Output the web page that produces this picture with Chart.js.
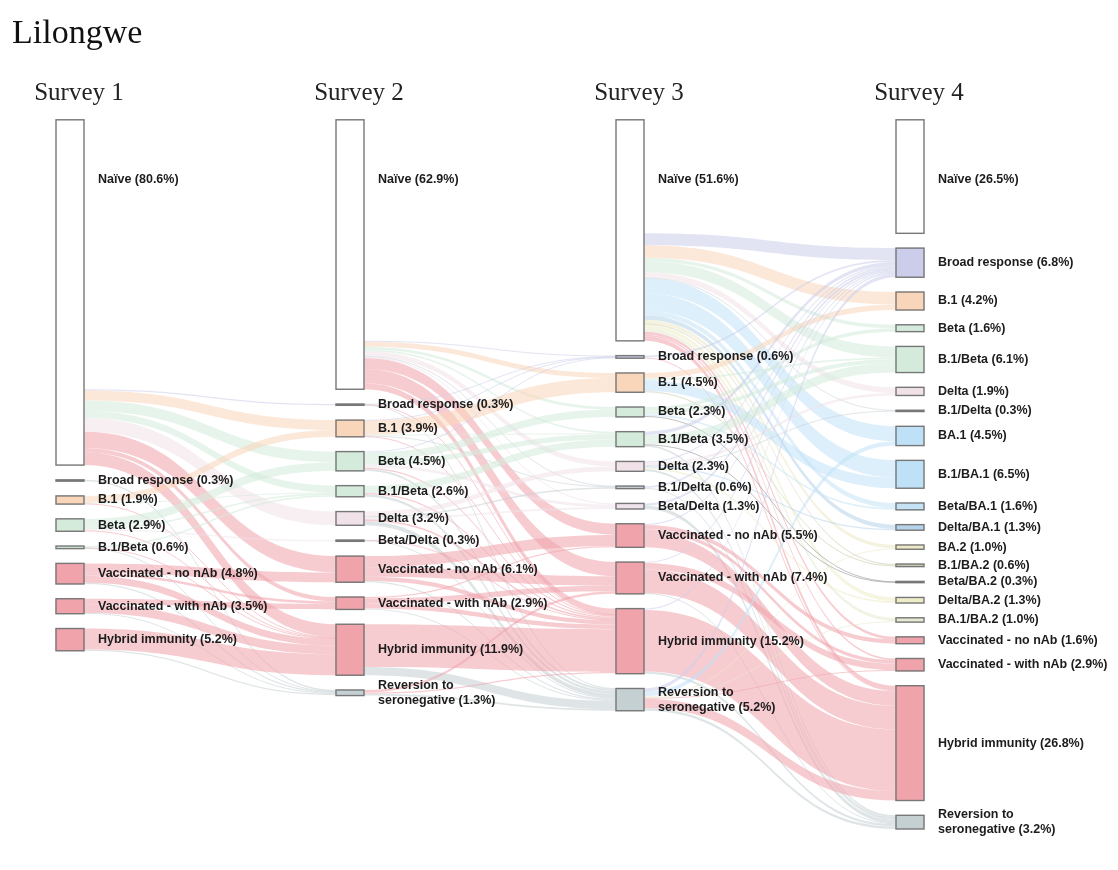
<!DOCTYPE html>
<html>
<head>
<meta charset="utf-8">
<script src="https://cdn.jsdelivr.net/npm/chart.js@4.4.1/dist/chart.umd.min.js"></script>
<style>
  body { margin: 0; background: #fff; }
  #caixa { width: 1118px; height: 870px; }
</style>
</head>
<body>
<div id="caixa"><canvas id="grafico"></canvas></div>
<script>
const surveys = ['Survey 1', 'Survey 2', 'Survey 3', 'Survey 4']

const names = {
  N: 'Naïve', Br: 'Broad response', B1: 'B.1', Be: 'Beta', B1Be: 'B.1/Beta', De: 'Delta',
  B1De: 'B.1/Delta', BeDe: 'Beta/Delta', BA1: 'BA.1', B1BA1: 'B.1/BA.1', BeBA1: 'Beta/BA.1',
  DeBA1: 'Delta/BA.1', BA2: 'BA.2', B1BA2: 'B.1/BA.2', BeBA2: 'Beta/BA.2', DeBA2: 'Delta/BA.2',
  BA1BA2: 'BA.1/BA.2', Vn: 'Vaccinated - no nAb', Vw: 'Vaccinated - with nAb',
  Hy: 'Hybrid immunity', Rv: 'Reversion to\nseronegative'
}

// nodes of each survey, top to bottom, with their share (%)
const nodes1 = ['N', 'Br', 'B1', 'Be', 'B1Be', 'Vn', 'Vw', 'Hy']
const values1 = [80.6, 0.3, 1.9, 2.9, 0.6, 4.8, 3.5, 5.2]

const nodes2 = ['N', 'Br', 'B1', 'Be', 'B1Be', 'De', 'BeDe', 'Vn', 'Vw', 'Hy', 'Rv']
const values2 = [62.9, 0.3, 3.9, 4.5, 2.6, 3.2, 0.3, 6.1, 2.9, 11.9, 1.3]

const nodes3 = ['N', 'Br', 'B1', 'Be', 'B1Be', 'De', 'B1De', 'BeDe', 'Vn', 'Vw', 'Hy', 'Rv']
const values3 = [51.6, 0.6, 4.5, 2.3, 3.5, 2.3, 0.6, 1.3, 5.5, 7.4, 15.2, 5.2]

const nodes4 = ['N', 'Br', 'B1', 'Be', 'B1Be', 'De', 'B1De', 'BA1', 'B1BA1', 'BeBA1', 'DeBA1',
  'BA2', 'B1BA2', 'BeBA2', 'DeBA2', 'BA1BA2', 'Vn', 'Vw', 'Hy', 'Rv']
const values4 = [26.5, 6.8, 4.2, 1.6, 6.1, 1.9, 0.3, 4.5, 6.5, 1.6, 1.3,
  1.0, 0.6, 0.3, 1.3, 1.0, 1.6, 2.9, 26.8, 3.2]

// flows between surveys [from, to, %]
const flows12 = [
  ['N', 'N', 62.9], ['N', 'Br', 0.3], ['N', 'B1', 2.3], ['N', 'Be', 2.5], ['N', 'B1Be', 1.6],
  ['N', 'De', 3.2], ['N', 'Vn', 3.8], ['N', 'Vw', 1.0], ['N', 'Hy', 3.0],
  ['Br', 'Rv', 0.3],
  ['B1', 'B1', 1.6], ['B1', 'B1Be', 0.2], ['B1', 'Hy', 0.1],
  ['Be', 'Be', 2.0], ['Be', 'B1Be', 0.4], ['Be', 'BeDe', 0.3], ['Be', 'Hy', 0.2],
  ['B1Be', 'B1Be', 0.4], ['B1Be', 'Hy', 0.1], ['B1Be', 'Rv', 0.1],
  ['Vn', 'Vn', 2.3], ['Vn', 'Vw', 0.6], ['Vn', 'Hy', 1.6], ['Vn', 'Rv', 0.3],
  ['Vw', 'Vw', 1.3], ['Vw', 'Hy', 2.0], ['Vw', 'Rv', 0.2],
  ['Hy', 'Hy', 4.9], ['Hy', 'Rv', 0.3]
]

const flows23 = [
  ['N', 'N', 51.6], ['N', 'Br', 0.2], ['N', 'B1', 1.2], ['N', 'Be', 0.6], ['N', 'B1Be', 0.4],
  ['N', 'De', 1.2], ['N', 'B1De', 0.1], ['N', 'BeDe', 0.3], ['N', 'Vn', 2.6], ['N', 'Vw', 3.3],
  ['N', 'Hy', 1.4],
  ['Br', 'Br', 0.1], ['Br', 'Hy', 0.1], ['Br', 'Rv', 0.1],
  ['B1', 'Br', 0.1], ['B1', 'B1', 3.3], ['B1', 'B1Be', 0.2], ['B1', 'B1De', 0.2], ['B1', 'Hy', 0.1],
  ['Be', 'Br', 0.2], ['Be', 'Be', 1.7], ['Be', 'B1Be', 1.2], ['Be', 'BeDe', 0.6], ['Be', 'Hy', 0.3],
  ['Be', 'Rv', 0.5],
  ['B1Be', 'B1Be', 1.7], ['B1Be', 'Hy', 0.3], ['B1Be', 'Rv', 0.6],
  ['De', 'De', 1.1], ['De', 'B1De', 0.3], ['De', 'BeDe', 0.4], ['De', 'Hy', 0.4], ['De', 'Rv', 1.0],
  ['BeDe', 'Hy', 0.1], ['BeDe', 'Rv', 0.2],
  ['Vn', 'Vn', 2.6], ['Vn', 'Vw', 2.2], ['Vn', 'Hy', 1.0], ['Vn', 'Rv', 0.3],
  ['Vw', 'Vn', 0.3], ['Vw', 'Vw', 1.3], ['Vw', 'Hy', 1.1], ['Vw', 'Rv', 0.2],
  ['Hy', 'Hy', 10.0], ['Hy', 'Rv', 1.9],
  ['Rv', 'Vw', 0.6], ['Rv', 'Hy', 0.3], ['Rv', 'Rv', 0.4]
]

const flows34 = [
  ['N', 'N', 26.5], ['N', 'Br', 2.8], ['N', 'B1', 2.9], ['N', 'Be', 0.8], ['N', 'B1Be', 2.6],
  ['N', 'De', 1.3], ['N', 'B1De', 0.1], ['N', 'BA1', 3.5], ['N', 'B1BA1', 4.0], ['N', 'BeBA1', 1.2],
  ['N', 'DeBA1', 1.0], ['N', 'BA2', 0.8], ['N', 'B1BA2', 0.3], ['N', 'DeBA2', 0.9],
  ['N', 'BA1BA2', 0.8], ['N', 'Vn', 0.6], ['N', 'Vw', 0.4], ['N', 'Hy', 1.1],
  ['Br', 'Br', 0.4], ['Br', 'Hy', 0.2],
  ['B1', 'B1', 1.3], ['B1', 'B1Be', 0.4], ['B1', 'B1BA1', 2.5], ['B1', 'B1BA2', 0.3],
  ['Be', 'Be', 0.8], ['Be', 'B1Be', 0.9], ['Be', 'BeBA1', 0.4], ['Be', 'BeBA2', 0.2],
  ['B1Be', 'Br', 0.8], ['B1Be', 'B1Be', 2.2], ['B1Be', 'BeBA2', 0.1], ['B1Be', 'Rv', 0.4],
  ['De', 'Br', 0.3], ['De', 'De', 0.6], ['De', 'B1De', 0.2], ['De', 'DeBA1', 0.3],
  ['De', 'DeBA2', 0.4], ['De', 'Rv', 0.5],
  ['B1De', 'Br', 0.4], ['B1De', 'Rv', 0.2],
  ['BeDe', 'Br', 0.5], ['BeDe', 'Rv', 0.8],
  ['Vn', 'Br', 0.3], ['Vn', 'Vn', 1.0], ['Vn', 'Vw', 0.8], ['Vn', 'Hy', 3.4],
  ['Vw', 'Br', 0.2], ['Vw', 'Vw', 1.5], ['Vw', 'Hy', 5.5], ['Vw', 'Rv', 0.2],
  ['Hy', 'Br', 0.3], ['Hy', 'Hy', 14.4], ['Hy', 'Rv', 0.5],
  ['Rv', 'Br', 0.8], ['Rv', 'BA1', 1.0], ['Rv', 'BA2', 0.2], ['Rv', 'BA1BA2', 0.2],
  ['Rv', 'Vw', 0.2], ['Rv', 'Hy', 2.2], ['Rv', 'Rv', 0.6]
]

// styles
const cores = {
  N: '#ffffff', Br: '#cbcdea', B1: '#f9d6b9', Be: '#d4ebdb', B1Be: '#d4ebdb', De: '#f0e2e8',
  B1De: '#c8d0d6', BeDe: '#efe2ea', BA1: '#bfe1f7', B1BA1: '#bfe1f7', BeBA1: '#c6e3f5',
  DeBA1: '#b5d3ea', BA2: '#ece9c4', B1BA2: '#cdd0b0', BeBA2: '#8c8c8c', DeBA2: '#efecc8',
  BA1BA2: '#e6ead0', Vn: '#f0a3ab', Vw: '#f0a3ab', Hy: '#f0a3ab', Rv: '#c5d0d3'
}
const GAP = 3.45
const BAR = 28

// layout of the nodes, in % units
const colunas = [[nodes1, values1], [nodes2, values2], [nodes3, values3], [nodes4, values4]]
const nos = {}
let alturaMax = 0
colunas.forEach(([keys, vals], c) => {
  let y = 0
  keys.forEach((k, i) => {
    nos[c + ':' + k] = { c, k, i, v: vals[i], y0: y, y1: y + vals[i], saida: y, entrada: y }
    y += vals[i] + GAP
  })
  alturaMax = Math.max(alturaMax, y - GAP)
})

const links = []
;[flows12, flows23, flows34].forEach((lista, t) => {
  lista.forEach(([a, b, v]) => links.push({ s: nos[t + ':' + a], t: nos[(t + 1) + ':' + b], v }))
})
links.slice().sort((p, q) => p.s.i - q.s.i || p.t.i - q.t.i).forEach(l => { l.sy = l.s.saida; l.s.saida += l.v })
links.slice().sort((p, q) => p.t.i - q.t.i || p.s.i - q.s.i).forEach(l => { l.ty = l.t.entrada; l.t.entrada += l.v })

const barras = []
const barCores = []
Object.values(nos).forEach(n => {
  barras.push({ x: n.c, y: [n.y0, n.y1] })
  barCores.push(cores[n.k])
})

const fluxos = {
  id: 'fluxos',
  beforeDatasetsDraw(chart) {
    const { ctx, scales: { x, y } } = chart
    ctx.save()
    ctx.globalAlpha = 0.55
    links.forEach(l => {
      if (l.t.k === 'N') return
      const x0 = x.getPixelForValue(l.s.c) + BAR / 2
      const x1 = x.getPixelForValue(l.t.c) - BAR / 2
      const xm = (x0 + x1) / 2
      const a0 = y.getPixelForValue(l.sy), a1 = y.getPixelForValue(l.sy + l.v)
      const b0 = y.getPixelForValue(l.ty), b1 = y.getPixelForValue(l.ty + l.v)
      ctx.fillStyle = cores[l.t.k]
      ctx.strokeStyle = cores[l.t.k]
      if (a1 - a0 < 1.2) {
        const am = (a0 + a1) / 2, bm = (b0 + b1) / 2
        ctx.lineWidth = 1
        ctx.beginPath()
        ctx.moveTo(x0, am)
        ctx.bezierCurveTo(xm, am, xm, bm, x1, bm)
        ctx.stroke()
      } else {
        ctx.beginPath()
        ctx.moveTo(x0, a0)
        ctx.bezierCurveTo(xm, a0, xm, b0, x1, b0)
        ctx.lineTo(x1, b1)
        ctx.bezierCurveTo(xm, b1, xm, a1, x0, a1)
        ctx.closePath()
        ctx.fill()
      }
    })
    ctx.restore()
  },
  afterDatasetsDraw(chart) {
    const { ctx, scales: { x, y } } = chart
    ctx.save()
    // node outlines, centred on the bar edges
    ctx.strokeStyle = '#777777'
    ctx.lineWidth = 1.4
    chart.getDatasetMeta(0).data.forEach(b => {
      const topo = Math.min(b.y, b.base)
      ctx.strokeRect(b.x - b.width / 2, topo, b.width, Math.abs(b.base - b.y))
    })
    ctx.font = 'bold 12.5px "Liberation Sans", Arial, sans-serif'
    ctx.fillStyle = '#1c1c1c'
    ctx.textBaseline = 'middle'
    Object.values(nos).forEach(n => {
      const linhas = names[n.k].split('\n')
      linhas[linhas.length - 1] += ' (' + n.v.toFixed(1) + '%)'
      const meio = n.k === 'N' ? n.y0 + 14 : (n.y0 + n.y1) / 2
      const px = x.getPixelForValue(n.c) + BAR / 2 + 14
      const py = y.getPixelForValue(meio)
      linhas.forEach((txt, j) => {
        ctx.fillText(txt, px, py + (j - (linhas.length - 1) / 2) * 15)
      })
    })
    ctx.restore()
  }
}

const grafico = new Chart(document.getElementById('grafico'), {
  type: 'bar',
  data: {
    datasets: [{
      data: barras,
      backgroundColor: barCores,
      borderWidth: 0,
      borderSkipped: false,
      barThickness: BAR
    }]
  },
  options: {
    responsive: true,
    maintainAspectRatio: false,
    animation: false,
    events: [],
    layout: { padding: { top: 0, left: 12, right: 12, bottom: 41 } },
    plugins: {
      legend: { display: false },
      tooltip: { enabled: false },
      title: {
        display: true,
        text: 'Lilongwe',
        align: 'start',
        color: '#111',
        font: { family: '"Liberation Serif", serif', size: 34, weight: 'normal' },
        padding: { top: 14, bottom: 13 }
      }
    },
    scales: {
      x: {
        type: 'linear',
        position: 'top',
        offset: false,
        min: -58 / 280,
        max: -58 / 280 + 1094 / 280,
        afterBuildTicks: s => { s.ticks = surveys.map((_, i) => ({ value: i })) },
        grid: { display: false, drawTicks: false },
        border: { display: false },
        ticks: {
          padding: 11,
          labelOffset: 9,
          color: '#222',
          font: { family: '"Liberation Serif", serif', size: 25 },
          callback: v => surveys[v]
        }
      },
      y: {
        type: 'linear',
        display: false,
        reverse: true,
        min: 0,
        max: alturaMax
      }
    }
  },
  plugins: [fluxos]
})
</script>
</body>
</html>
